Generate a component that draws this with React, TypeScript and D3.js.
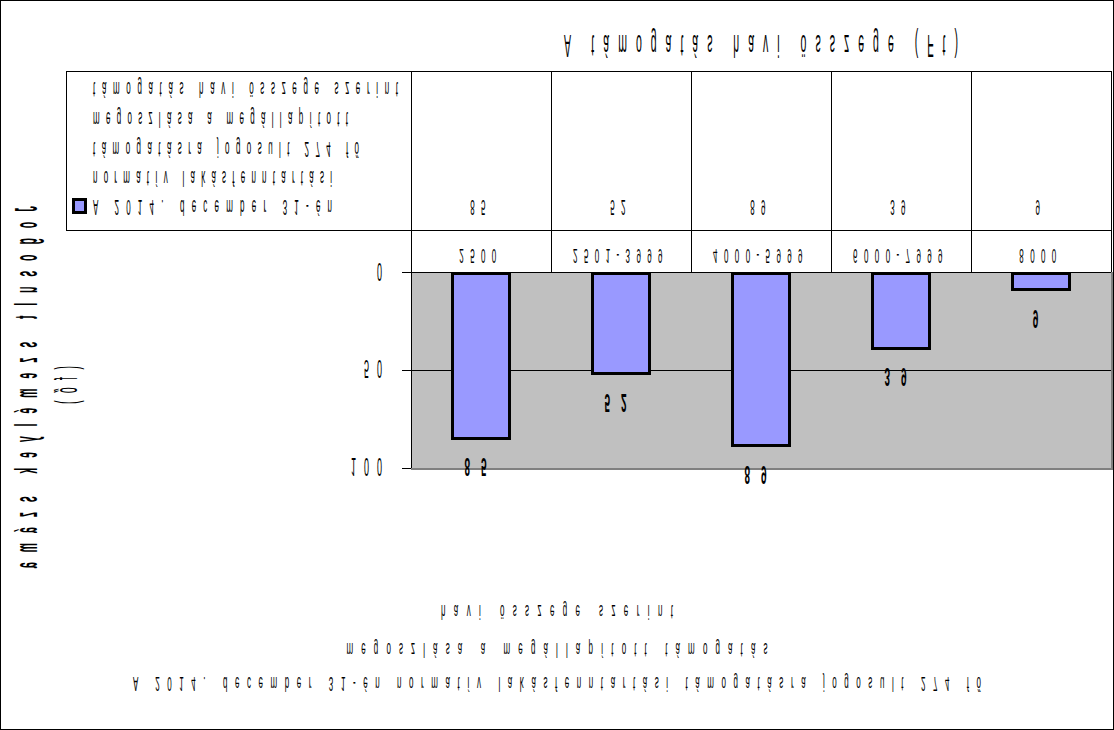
import React from "react";
import * as d3 from "d3";

// ---- data ----
const categories = ["2500", "2501-3999", "4000-5999", "6000-7999", "8000"];
const values = [85, 52, 89, 39, 9];
const yTicks = [0, 50, 100];
const legendLines = [
  "A 2014. december 31-én",
  "normatív lakásfenntartási",
  "támogatásra jogosult 274 fő",
  "megoszlása a megállapított",
  "támogatás havi összege szerint",
];
const titleLines = [
  "A 2014. december 31-én normatív lakásfenntartási támogatásra jogosult 274 fő",
  "megoszlása a megállapított támogatás",
  "havi összege szerint",
];
const xTitle = "A támogatás havi összege (Ft)";
const yTitleLines = ["Jogosult személyek száma", "(fő)"];

const W = 1114;
const H = 730;
const FONT = "'Liberation Sans', Arial, sans-serif";

type TProps = {
  x: number;
  y: number;
  text: string;
  size: number;
  sy: number;
  anchor?: "start" | "middle" | "end";
  len?: number;
  ls?: number;
  bold?: boolean;
  rot?: boolean;
};

// All text in the reference is mirrored vertically (the whole chart is flipped)
function FlipText({ x, y, text, size, sy, anchor = "start", len, ls, bold, rot }: TProps) {
  const tr = `translate(${x},${y}) scale(1,-1)` + (rot ? " rotate(-90)" : "") + ` scale(1,${sy})`;
  return (
    <text
      transform={tr}
      fontFamily={FONT}
      fontSize={size}
      fontWeight={bold ? "bold" : "normal"}
      textAnchor={anchor}
      letterSpacing={ls ?? 0}
      textLength={len}
      lengthAdjust={len ? "spacing" : undefined}
      fill="#000"
    >
      {text}
    </text>
  );
}

export default function App() {
  const plotL = 411;
  const plotR = 1111;
  const plotT = 272;
  const plotB = 467.5;
  const tableT = 71;
  const tableMid = 230;
  const tableL = 66;

  const x = d3.scaleBand<string>().domain(categories).range([plotL, plotR]).paddingInner(0).paddingOuter(0);
  const y = d3.scaleLinear().domain([0, 100]).range([plotT, plotB]);
  const bw = x.bandwidth() * 0.41;

  // baselines (top of mirrored glyphs) and widths, indexed like legendLines
  const legendBase = [200, 171, 142, 112, 82];
  const legendLen = [239, 239, 266, 255, 305];
  const titleBase = [677, 643, 605];
  const titleLen = [848, 421, 232];

  return (
    <svg
      width={W}
      height={H}
      style={{ position: "absolute", left: 0, top: 0, background: "#fff" }}
      shapeRendering="crispEdges"
    >
      <rect x={0} y={0} width={W} height={H} fill="#fff" />
      <rect x={0.5} y={0.5} width={W - 1} height={H - 1} fill="none" stroke="#000" strokeWidth={1} />

      {/* x axis title (top, flipped) */}
      <FlipText x={(plotL + plotR) / 2} y={35} text={xTitle} size={10.5} sy={3} anchor="middle" len={394} />

      {/* data table */}
      <rect x={tableL + 0.5} y={tableT + 0.5} width={plotL - tableL} height={tableMid - tableT} fill="none" stroke="#000" />
      <line x1={plotL} x2={plotR} y1={tableT + 0.5} y2={tableT + 0.5} stroke="#000" />
      <line x1={plotL} x2={plotR} y1={tableMid + 0.5} y2={tableMid + 0.5} stroke="#000" />
      {categories.map((c) => (
        <line key={"v" + c} x1={(x(c) as number) + 0.5} x2={(x(c) as number) + 0.5} y1={tableT} y2={plotT} stroke="#000" />
      ))}
      <line x1={plotR + 0.5} x2={plotR + 0.5} y1={tableT} y2={plotT} stroke="#000" />

      {/* legend */}
      <rect x={73.5} y={199.5} width={12} height={13} fill="#9999FF" stroke="#000" strokeWidth={3} />
      {legendLines.map((t, i) => (
        <FlipText key={t} x={93} y={legendBase[i]} text={t} size={8} sy={2.7} len={legendLen[i]} />
      ))}

      {/* table values + categories */}
      {categories.map((c, i) => (
        <g key={"t" + c}>
          <FlipText x={(x(c) as number) + x.bandwidth() / 2} y={200} text={String(values[i])} size={8} sy={2.7} anchor="middle" ls={6.4} />
          <FlipText x={(x(c) as number) + x.bandwidth() / 2} y={249} text={c} size={8} sy={2.5} anchor="middle" ls={6.4} />
        </g>
      ))}

      {/* plot area */}
      <rect x={plotL} y={plotT} width={plotR - plotL} height={plotB - plotT} fill="#C0C0C0" />
      <line x1={plotL} x2={plotR + 1} y1={plotB + 1} y2={plotB + 1} stroke="#808080" strokeWidth={2} />
      <line x1={plotR + 1} x2={plotR + 1} y1={plotT} y2={plotB + 2} stroke="#808080" strokeWidth={2} />
      {yTicks.slice(1, -1).map((t) => (
        <line key={"g" + t} x1={plotL} x2={plotR} y1={Math.round(y(t)) + 0.5} y2={Math.round(y(t)) + 0.5} stroke="#000" />
      ))}
      <line x1={plotL + 0.5} x2={plotL + 0.5} y1={plotT} y2={plotB} stroke="#000" />
      <line x1={plotL} x2={plotR} y1={plotT + 0.5} y2={plotT + 0.5} stroke="#000" />
      {yTicks.map((t) => (
        <g key={"tk" + t}>
          <line x1={plotL - 9} x2={plotL} y1={Math.round(y(t)) + 0.5} y2={Math.round(y(t)) + 0.5} stroke="#000" />
          <FlipText x={390} y={y(t) - 9.5} text={String(t)} size={9} sy={2.9} anchor="end" ls={8} />
        </g>
      ))}

      {/* bars */}
      {categories.map((c, i) => {
        const bx = (x(c) as number) + (x.bandwidth() - bw) / 2;
        return (
          <g key={"b" + c}>
            <rect x={bx} y={y(0) + 1} width={bw} height={y(values[i]) - y(0) - 1} fill="#9999FF" stroke="#000" strokeWidth={3} />
            <FlipText x={bx + bw / 2} y={y(values[i]) + 20} text={String(values[i])} size={10} sy={2.6} anchor="middle" ls={11} bold />
          </g>
        );
      })}

      {/* y axis title (rotated, flipped) */}
      <FlipText x={37} y={387} text={yTitleLines[0]} size={10.5} sy={3} anchor="middle" len={362} rot bold />
      <FlipText x={77} y={385} text={yTitleLines[1]} size={10.5} sy={3} anchor="middle" len={38} rot />

      {/* chart title (bottom, flipped) */}
      {titleLines.map((t, i) => (
        <FlipText key={t} x={557} y={titleBase[i]} text={t} size={8} sy={2.6} anchor="middle" len={titleLen[i]} />
      ))}
    </svg>
  );
}
